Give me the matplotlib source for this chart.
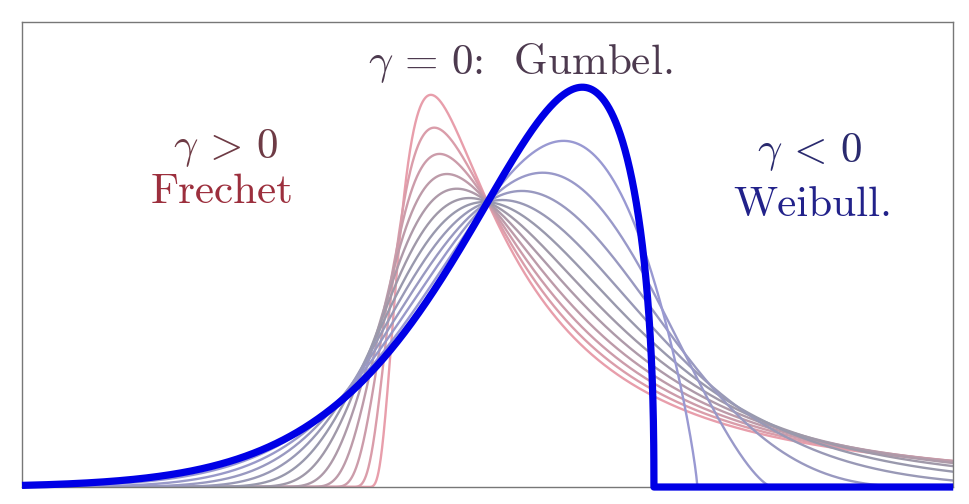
import numpy as np
import matplotlib
matplotlib.use('Agg')
import matplotlib.pyplot as plt
from matplotlib.colors import LinearSegmentedColormap

plt.rcParams['mathtext.fontset'] = 'cm'
plt.rcParams['font.family'] = ['cmr10', 'DejaVu Serif']
plt.rcParams['axes.unicode_minus'] = False

# shape parameters gamma of the curves, thick one separate
gammas = [0.9, 0.755, 0.609, 0.464, 0.318, 0.173, 0.027, -0.118, -0.264, -0.409, -0.555]
gamma_thick = -0.7

labels = {
    'gumbel': (r'$\gamma\,=\,0$:  Gumbel.', 0.28, 0.548, '#4d3a4f'),
    'frechet_g': (r'$\gamma\,>\,0$', -2.25, 0.438, '#6e3b45'),
    'frechet': ('Frechet', -2.28, 0.381, '#9c2f3d'),
    'weibull_g': (r'$\gamma\,<\,0$', 2.77, 0.433, '#2a2a6e'),
    'weibull': ('Weibull.', 2.79, 0.364, '#22228a'),
}


def gev_pdf(x, g):
    # standard GEV density, mu=0, sigma=1
    s = 1 + g * x
    out = np.zeros_like(x)
    ok = s > 0
    t = s[ok] ** (-1.0 / g)
    out[ok] = t ** (g + 1) * np.exp(-t)
    return out


x = np.linspace(-4, 4, 8001)

cmap = LinearSegmentedColormap.from_list(
    'gev', [(0.60, 0.60, 0.86), (0.60, 0.60, 0.66), (0.91, 0.62, 0.67)])

fig = plt.figure(figsize=(9.7, 5.04), dpi=100)
ax = fig.add_axes([0.0227, 0.0337, 0.96, 0.922])

gmin, gmax = gamma_thick, max(gammas)
for g in gammas:
    w = (g - gmin) / (gmax - gmin)
    xs = x
    if g < 0:
        xs = np.sort(np.append(x, [-1 / g - 1e-9, -1 / g + 1e-9]))
    ax.plot(xs, gev_pdf(xs, g), color=cmap(w), lw=1.7, zorder=2)

xs = np.sort(np.append(x, [-1 / gamma_thick - 1e-9, -1 / gamma_thick + 1e-9]))
ax.plot(xs, gev_pdf(xs, gamma_thick), color=(0.0, 0.0, 0.9), lw=5.2,
        solid_capstyle='butt', solid_joinstyle='round', clip_on=False, zorder=3)

for txt, tx, ty, col in labels.values():
    ax.text(tx, ty, txt, color=col, fontsize=31, ha='center', va='center')

ax.set_xlim(-4, 4)
ax.set_ylim(0, 0.6)
ax.set_xticks([])
ax.set_yticks([])
for sp in ax.spines.values():
    sp.set_color('#777777')
    sp.set_linewidth(1.0)

fig.savefig('out.png', dpi=100)
